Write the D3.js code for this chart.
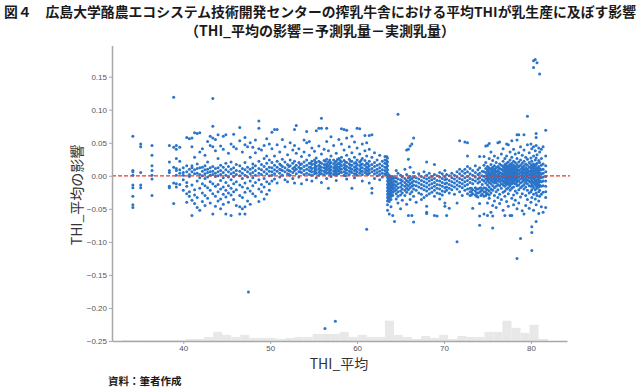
<!DOCTYPE html>
<html><head><meta charset="utf-8">
<script src="https://cdn.jsdelivr.net/npm/d3@7"></script>
<style>body{margin:0;background:#fff}svg{display:block}</style>
</head><body>
<svg id="chart" width="640" height="387"></svg>
<script>
// ---------- text ----------
const titleLine1 = "図４　広島大学酪農エコシステム技術開発センターの搾乳牛舎における平均THIが乳生産に及ぼす影響";
const titleLine2 = "（THI_平均の影響＝予測乳量－実測乳量）";
const xTitle = "THI_平均";
const yTitle = "THI_平均の影響";
const sourceNote = "資料：筆者作成";

// ---------- ticks ----------
const xTicks = [40, 50, 60, 70, 80];
const yTicks = [0.15, 0.10, 0.05, 0.00, -0.05, -0.10, -0.15, -0.20, -0.25];

// ---------- marginal histogram of THI (bin start, width, counts) ----------
const histStart = 33.04;
const histWidth = 1.04;
const histCounts = [1,1,1,1,1,1,1,2,2,4,9,6,4,6,3,3,3,2,3,4,4,7,7,7,9,4,6,4,4,20,6,4,2,5,3,6,2,5,4,4,9,9,20,13,8,16,2];

// ---------- scatter: THI columns and effect values ----------
const thiA = [34.2, 35.1, 36.4, 38.4, 38.9];
const effA = [
 [0.060,0.008,0.006,0.001,-0.014,-0.018,-0.031,-0.044,-0.048],
 [0.048,0.044,0.005,-0.014,-0.018],
 [0.046,0.031,0.015,0.008,0.001,-0.005,-0.030],
 [0.046,0.021,0.008,0.005,-0.016,-0.018],
 [0.119,0.043,0.013,-0.011,-0.042]
];

const thiB = [39.2,39.6,40.0,40.4,40.7,41.0,41.3,41.6,41.9,42.2,42.5,42.8,43.1,43.4,43.7,44.0,44.3,44.6,44.9,45.2,45.5,45.8,46.1,46.5,46.8,47.1,47.4,47.7,48.0,48.3,48.7,49.0,49.3,49.6,49.9];
const effB = [
 [0.046,0.040,0.026,0.011,0.008,0.001,-0.012,-0.017],
 [0.043,0.022,0.009,0.004,-0.013],
 [0.012,0.005,0.001,-0.006,-0.022],
 [0.058,0.015,0.006,-0.010,-0.016,-0.027,-0.040],
 [0.056,0.010,0.002,-0.001,-0.024,-0.031],
 [0.057,0.044,0.015,0.012,0.006,-0.014,-0.037,-0.060],
 [0.065,0.028,0.009,0.003,-0.021,-0.029,-0.042],
 [0.064,0.018,0.011,0.004,-0.008,-0.033,-0.048],
 [0.065,0.036,0.012,0.002,-0.003,-0.019,-0.052],
 [0.041,0.013,0.007,0.000,-0.012,-0.026,-0.039],
 [0.031,0.015,0.009,0.003,-0.004,-0.015,-0.030,-0.045],
 [0.052,0.021,0.010,0.005,-0.002,-0.018,-0.034],
 [0.060,0.046,0.012,0.006,0.001,-0.009,-0.022,-0.041],
 [0.117,0.075,0.057,0.044,0.014,0.007,0.002,-0.012,-0.027,-0.058],
 [0.055,0.038,0.011,0.004,-0.001,-0.016,-0.031,-0.046],
 [0.062,0.026,0.012,0.006,0.000,-0.013,-0.024,-0.038],
 [0.045,0.016,0.008,0.002,-0.007,-0.020,-0.035,-0.050],
 [0.060,0.040,0.013,0.005,-0.003,-0.017,-0.028,-0.043],
 [0.062,0.019,0.009,0.001,-0.010,-0.022,-0.032,-0.058],
 [0.034,0.014,0.006,-0.002,-0.015,-0.026,-0.040],
 [0.048,0.021,0.010,0.003,-0.006,-0.019,-0.029,-0.060],
 [0.063,0.044,0.012,0.005,-0.001,-0.012,-0.024,-0.036],
 [0.041,0.017,0.008,0.002,-0.009,-0.021,-0.045],
 [0.073,0.053,0.015,0.007,0.000,-0.014,-0.030,-0.047,-0.058],
 [0.036,0.011,0.004,-0.004,-0.017,-0.033,-0.050],
 [0.058,0.047,0.020,0.009,0.001,-0.011,-0.025,-0.047,-0.058],
 [0.044,0.013,0.006,-0.002,-0.019,-0.038],
 [0.050,0.028,0.010,0.003,-0.008,-0.023,-0.043],
 [0.043,0.018,0.012,0.005,-0.003,-0.015,-0.027],
 [0.054,0.035,0.015,0.008,0.001,-0.010,-0.031],
 [0.083,0.072,0.041,0.022,0.011,0.004,-0.006,-0.020,-0.039],
 [0.039,0.017,0.009,0.002,-0.013,-0.024],
 [0.046,0.026,0.014,0.006,-0.004,-0.017,-0.035],
 [0.056,0.030,0.019,0.010,0.003,-0.009,-0.028],
 [0.048,0.024,0.013,0.007,0.000,-0.012,-0.022]
];

const thiC = [50.2,50.5,50.8,51.1,51.4,51.7,52.0,52.3,52.6,52.8,53.0,53.3,53.6,53.9,54.2,54.5,54.8,55.1,55.3,55.6,55.9,56.2,56.5,56.7,57.0,57.3,57.6,57.9,58.2,58.5,58.8,59.1,59.4,59.7,60.0,60.3,60.6,60.9,61.1,61.4,61.7,62.0,62.3,62.6,62.9,63.2];
const effC = [
 [0.066,0.041,0.020,0.012,0.006,0.001,-0.008],
 [0.070,0.030,0.016,0.009,0.003,-0.005],
 [0.070,0.047,0.022,0.013,0.007,-0.011],
 [0.036,0.018,0.010,0.004,-0.002],
 [0.055,0.025,0.014,0.008,0.001],
 [0.044,0.021,0.012,0.006,-0.006],
 [0.032,0.017,0.009,0.003,-0.009],
 [0.050,0.024,0.015,0.007,0.001],
 [0.039,0.019,0.011,0.005,-0.004],
 [0.070,0.046,0.022,0.013,0.008,-0.011],
 [0.076,0.034,0.016,0.010,0.003],
 [0.041,0.020,0.013,0.006,-0.002],
 [0.029,0.018,0.011,0.005,-0.012],
 [0.054,0.036,0.021,0.014,0.008,0.002],
 [0.067,0.050,0.024,0.016,0.010,0.004,-0.006],
 [0.052,0.031,0.019,0.013,0.008,0.002],
 [0.042,0.022,0.017,0.011,0.006,0.001,-0.008],
 [0.037,0.024,0.018,0.012,0.007,0.003],
 [0.068,0.027,0.020,0.014,0.009,0.004,-0.003],
 [0.072,0.045,0.022,0.016,0.011,0.006,0.001],
 [0.087,0.072,0.033,0.019,0.013,0.008,0.003,-0.010],
 [0.040,0.023,0.017,0.012,0.007,0.002],
 [0.072,0.052,0.025,0.018,0.013,0.009,0.004,-0.004],
 [0.038,0.021,0.015,0.010,0.005,-0.019],
 [0.059,0.030,0.020,0.014,0.009,0.004,-0.001],
 [0.046,0.024,0.018,0.012,0.007,0.002],
 [0.034,0.022,0.016,0.011,0.006,0.001,-0.007],
 [0.055,0.026,0.019,0.013,0.008,0.003],
 [0.071,0.048,0.028,0.021,0.015,0.010,0.005],
 [0.070,0.039,0.023,0.017,0.012,0.006,0.001],
 [0.069,0.057,0.031,0.020,0.014,0.009,0.004,-0.005],
 [0.044,0.025,0.018,0.012,0.007,0.002],
 [0.060,0.035,0.022,0.016,0.010,0.005,-0.019],
 [0.051,0.028,0.019,0.013,0.008,0.003,-0.003],
 [0.072,0.042,0.024,0.017,0.011,0.006,0.001],
 [0.071,0.033,0.021,0.015,0.009,0.004],
 [0.048,0.026,0.018,0.012,0.007,0.002,-0.008],
 [0.061,0.038,0.023,0.016,0.010,0.005],
 [0.050,0.030,0.019,0.013,0.008,0.003,-0.081],
 [0.061,0.040,0.022,0.015,0.009,0.004,-0.011],
 [0.062,0.028,0.017,0.011,0.006,-0.019,-0.026],
 [0.035,0.020,0.014,0.008,0.003,-0.004],
 [0.024,0.016,0.010,0.005,0.000],
 [0.031,0.018,0.012,0.007,0.002,-0.006],
 [0.022,0.015,0.009,0.004,-0.002],
 [0.029,0.024,0.019,0.013,0.008,0.003]
];

const thiC2 = [51.25,52.15,53.45,54.65,55.2,55.75,56.35,56.85,57.45,57.75,58.05,58.65,59.25,59.85,60.45,61.25];
const effC2 = [
 [0.016,0.009],
 [0.014,0.008,0.002],
 [0.017,0.011,0.006],
 [0.019,0.013,0.007],
 [0.021,0.015,0.010,0.005],
 [0.020,0.014,0.009,0.004],
 [0.022,0.016,0.011,0.006],
 [0.024,0.018,0.012,0.007,0.002],
 [0.020,0.014,0.009,0.004],
 [0.025,0.018,0.013,0.008,0.003],
 [0.023,0.017,0.011,0.006],
 [0.021,0.015,0.010,0.005,0.000],
 [0.022,0.016,0.011,0.006],
 [0.020,0.014,0.009,0.003],
 [0.023,0.017,0.012,0.007],
 [0.018,0.012,0.007,0.002]
];

const thiD = [63.4,63.5,63.6,63.7,63.8,63.9,64.0,64.1,64.3];
const effD = [
 [0.029,0.023,0.018,0.012,0.006,0.001],
 [0.027,0.021,0.015,0.009,0.004,-0.003,-0.008,-0.013,-0.018,-0.023,-0.028,-0.033,-0.038,-0.044,-0.052],
 [-0.001,-0.006,-0.011,-0.016,-0.021,-0.026,-0.031,-0.036],
 [0.001,-0.004,-0.009,-0.014,-0.019,-0.024,-0.029,-0.034,-0.039,-0.058],
 [-0.002,-0.007,-0.012,-0.017,-0.022,-0.027,-0.032],
 [-0.002,-0.006,-0.011,-0.016,-0.021,-0.026,-0.031,-0.036,-0.047],
 [-0.004,-0.009,-0.014,-0.019,-0.024,-0.029],
 [-0.001,-0.005,-0.010,-0.015,-0.020,-0.025,-0.030,-0.060],
 [-0.003,-0.008,-0.013,-0.018,-0.023,-0.069]
];

const thiE = [64.5,64.7,65.0,65.2,65.5,65.7,65.9,66.1,66.3,66.5,66.8,67.1,67.4,67.7,68.0,68.3,68.6,68.9,69.2,69.5,69.8,70.1,70.3,70.6,70.9,71.2,71.5,71.8,72.1,72.4,72.7,73.0,73.3,73.6,73.9,74.1,74.4,74.6];
const effE = [
 [0.008,-0.003,-0.009,-0.015,-0.021,-0.027,-0.035],
 [0.093,0.004,-0.005,-0.012,-0.018,-0.024,-0.031,-0.041],
 [0.001,-0.006,-0.011,-0.017,-0.023,-0.029,-0.050],
 [-0.002,-0.008,-0.014,-0.020,-0.026,-0.037],
 [0.010,-0.004,-0.010,-0.016,-0.022,-0.030],
 [0.039,0.002,-0.007,-0.013,-0.019,-0.025,-0.043],
 [0.040,0.025,-0.003,-0.009,-0.015,-0.021,-0.060],
 [0.045,0.013,-0.001,-0.006,-0.012,-0.018,-0.027,-0.036],
 [0.048,-0.004,-0.010,-0.016,-0.024,-0.060],
 [0.057,0.005,-0.002,-0.008,-0.014,-0.020,-0.031,-0.070],
 [-0.003,-0.009,-0.015,-0.022,-0.040],
 [0.003,-0.005,-0.011,-0.017,-0.026],
 [-0.001,-0.007,-0.013,-0.019,-0.028,-0.036],
 [0.006,-0.003,-0.009,-0.015,-0.021,-0.033],
 [0.021,0.001,-0.005,-0.011,-0.017,-0.023,-0.030,-0.046,-0.055,-0.057],
 [0.004,-0.003,-0.008,-0.014,-0.020,-0.027],
 [-0.001,-0.006,-0.012,-0.018,-0.025],
 [0.017,0.002,-0.004,-0.010,-0.016,-0.022,-0.031,-0.060],
 [0.000,-0.007,-0.013,-0.019,-0.026,-0.061],
 [0.005,-0.002,-0.008,-0.014,-0.020,-0.027,-0.035],
 [0.003,-0.004,-0.010,-0.016,-0.023,-0.029],
 [0.008,-0.001,-0.006,-0.012,-0.018,-0.024,-0.041,-0.046],
 [0.002,-0.005,-0.011,-0.017,-0.022,-0.060],
 [0.000,-0.007,-0.013,-0.019,-0.026,-0.049],
 [0.004,-0.003,-0.009,-0.015,-0.021],
 [0.001,-0.005,-0.011,-0.017,-0.028],
 [0.006,-0.002,-0.008,-0.014,-0.020,-0.041,-0.100],
 [0.053,0.010,0.003,-0.004,-0.010,-0.016,-0.024],
 [0.007,0.000,-0.006,-0.012,-0.018,-0.030],
 [0.051,0.010,0.004,-0.003,-0.009,-0.015,-0.022],
 [0.050,0.030,0.014,0.006,-0.001,-0.007,-0.013,-0.020,-0.027],
 [0.011,0.003,-0.004,-0.010,-0.019,-0.024,-0.030],
 [0.008,0.001,-0.006,-0.012,-0.021,-0.027,-0.049],
 [0.015,0.005,-0.002,-0.008,-0.018,-0.023,-0.029],
 [0.009,0.002,-0.005,-0.011,-0.020,-0.026,-0.032],
 [0.029,0.012,0.004,-0.003,-0.009,-0.019,-0.025,-0.042,-0.061,-0.075],
 [0.007,0.000,-0.006,-0.013,-0.021,-0.028],
 [0.029,0.016,0.006,-0.001,-0.008,-0.018,-0.024,-0.031,-0.058]
];

const thiE2 = [73.15,73.75,74.25,74.9];
const effE2 = [
 [-0.019,-0.024,-0.029],
 [-0.020,-0.026,-0.031],
 [-0.018,-0.023,-0.030],
 [-0.021,-0.027]
];

const thiF = [74.8,75.0,75.2,75.4,75.6,75.8,76.0,76.2,76.4,76.6,76.8,77.0,77.2,77.4,77.6,77.8,78.0,78.2,78.4,78.6,78.8,79.0,79.2,79.4,79.6,79.8,80.0,80.1,80.3,80.5,80.6,80.7,80.9,81.0,81.2,81.4,81.7];
const effF = [
 [0.045,0.020,0.011,0.005,0.000,-0.005,-0.011,-0.019,-0.025,-0.030],
 [0.046,0.014,0.008,0.002,-0.003,-0.008,-0.014,-0.021,-0.027,-0.041,-0.060],
 [0.049,0.026,0.012,0.006,0.001,-0.004,-0.010,-0.017,-0.023,-0.029,-0.034],
 [0.036,0.017,0.009,0.003,-0.002,-0.007,-0.012,-0.020,-0.026,-0.055],
 [0.023,0.013,0.007,0.001,-0.004,-0.009,-0.015,-0.022,-0.045,-0.061,-0.079],
 [0.030,0.015,0.010,0.004,-0.001,-0.006,-0.011,-0.018,-0.030,-0.038],
 [0.020,0.012,0.006,0.000,-0.005,-0.010,-0.016,-0.024,-0.048],
 [0.050,0.027,0.014,0.008,0.003,-0.002,-0.007,-0.013,-0.021,-0.033],
 [0.051,0.018,0.011,0.005,0.000,-0.004,-0.009,-0.015,-0.028,-0.042],
 [0.033,0.016,0.010,0.004,-0.001,-0.006,-0.012,-0.019,-0.036],
 [0.041,0.022,0.014,0.008,0.002,-0.003,-0.008,-0.014,-0.025,-0.052],
 [0.026,0.017,0.011,0.006,0.001,-0.004,-0.009,-0.016,-0.023,-0.031,-0.060],
 [0.048,0.030,0.019,0.013,0.007,0.002,-0.003,-0.008,-0.013,-0.020,-0.039],
 [0.047,0.021,0.015,0.009,0.004,-0.001,-0.006,-0.011,-0.018,-0.027,-0.046],
 [0.036,0.024,0.017,0.011,0.006,0.001,-0.004,-0.010,-0.015,-0.022,-0.060],
 [0.053,0.028,0.019,0.013,0.008,0.003,-0.002,-0.007,-0.012,-0.019,-0.034,-0.060],
 [0.040,0.022,0.016,0.010,0.005,0.000,-0.005,-0.011,-0.017,-0.029,-0.044],
 [0.033,0.020,0.014,0.009,0.004,-0.001,-0.006,-0.012,-0.023,-0.037],
 [0.062,0.054,0.026,0.017,0.011,0.006,0.001,-0.004,-0.009,-0.015,-0.026,-0.050,-0.125],
 [0.062,0.035,0.021,0.014,0.008,0.003,-0.002,-0.008,-0.014,-0.021,-0.041],
 [0.044,0.024,0.016,0.010,0.005,0.000,-0.005,-0.011,-0.018,-0.032,-0.095],
 [0.031,0.019,0.013,0.007,0.002,-0.003,-0.009,-0.016,-0.027,-0.053],
 [0.062,0.039,0.022,0.015,0.009,0.004,-0.001,-0.007,-0.013,-0.020,-0.058],
 [0.028,0.018,0.012,0.006,0.001,-0.004,-0.010,-0.017,-0.030,-0.045],
 [0.090,0.047,0.025,0.016,0.010,0.005,0.000,-0.006,-0.012,-0.022,-0.036],
 [0.035,0.020,0.013,0.007,0.002,-0.003,-0.008,-0.015,-0.026,-0.049],
 [0.048,0.027,0.017,0.011,0.006,0.001,-0.004,-0.010,-0.016,-0.024,-0.040],
 [0.041,0.022,0.014,0.008,0.003,-0.002,-0.008,-0.014,-0.021,-0.033,-0.077,-0.086,-0.113],
 [0.174,0.164,0.044,0.030,0.018,0.012,0.006,0.001,-0.005,-0.011,-0.018,-0.028,-0.052],
 [0.176,0.038,0.024,0.015,0.009,0.004,-0.001,-0.007,-0.013,-0.021,-0.035],
 [0.064,0.058,0.046,0.027,0.017,0.010,0.004,-0.002,-0.009,-0.016,-0.026,-0.044,-0.069],
 [0.171,0.032,0.019,0.012,0.006,0.000,-0.006,-0.012,-0.019,-0.030],
 [0.042,0.023,0.014,0.008,0.002,-0.004,-0.010,-0.017,-0.024,-0.038,-0.057],
 [0.154,0.036,0.020,0.011,0.005,-0.001,-0.007,-0.014,-0.022,-0.031],
 [0.040,0.026,0.016,0.009,0.003,-0.003,-0.009,-0.016,-0.028,-0.047],
 [0.044,0.018,0.010,0.004,-0.002,-0.008,-0.015,-0.025,-0.055],
 [0.069,0.030,0.015,0.006,-0.001,-0.008,-0.016,-0.024,-0.033,-0.048]
];

const thiF2 = [75.1,75.5,75.9,76.3,76.7,76.9,77.1,77.3,77.5,77.7,77.9,78.1,78.3,78.5,79.1,79.5,79.9,80.2,80.4,80.8];
const effF2 = [
 [0.010,0.004,-0.001,-0.006],
 [0.011,0.005,0.000,-0.005],
 [0.008,0.002,-0.003,-0.008],
 [0.012,0.006,0.001,-0.005],
 [0.009,0.003,-0.002,-0.007],
 [0.013,0.007,0.002,-0.003,-0.010],
 [0.015,0.009,0.004,-0.001,-0.006,-0.012],
 [0.012,0.006,0.001,-0.004,-0.010],
 [0.014,0.008,0.003,-0.002,-0.007,-0.013],
 [0.016,0.010,0.005,0.000,-0.005],
 [0.011,0.005,0.000,-0.005,-0.010],
 [0.013,0.007,0.002,-0.003,-0.008],
 [0.010,0.004,-0.001,-0.006,-0.012],
 [0.014,0.008,0.003,-0.002,-0.007],
 [0.011,0.005,0.000,-0.005],
 [0.009,0.003,-0.002,-0.007],
 [0.013,0.007,0.002,-0.003,-0.009],
 [0.015,0.009,0.003,-0.003,-0.009,-0.015],
 [0.012,0.007,0.002,-0.004,-0.010],
 [0.010,0.004,-0.002,-0.008,-0.014]
];

const outlierThi = [47.5, 56.3, 57.5];
const outlierEffect = [-0.176, -0.231, -0.220];

// ---------- build points ----------
const points = [];
[[thiA,effA],[thiB,effB],[thiC,effC],[thiC2,effC2],[thiD,effD],[thiE,effE],[thiE2,effE2],[thiF,effF],[thiF2,effF2]]
  .forEach(([ts, es]) => ts.forEach((t, i) => es[i].forEach(v => points.push({thi: t, eff: v}))));
outlierThi.forEach((t, i) => points.push({thi: t, eff: outlierEffect[i]}));

const histBins = histCounts.map((c, i) => ({x0: histStart + i * histWidth, x1: histStart + (i + 1) * histWidth, count: c}));

// ---------- layout ----------
const svg = d3.select("#chart");
const plot = {left: 112, right: 567, top: 45.6, bottom: 341};
const x = d3.scaleLinear().domain([31.8, 84.15]).range([plot.left, plot.right]);
const y = d3.scaleLinear().domain([-0.25, 0.197]).range([plot.bottom, plot.top]);
const hy = d3.scaleLinear().domain([0, 20]).range([plot.bottom, plot.bottom - 20.3]);

const cjk = "'Noto Sans CJK JP','Noto Sans',sans-serif";
const sans = "'Liberation Sans',Arial,sans-serif";

// title
svg.append("text").attr("x", 4).attr("y", 17).attr("textLength", 632).attr("lengthAdjust", "spacingAndGlyphs")
  .style("font-family", cjk).style("font-size", "13.5px").style("font-weight", 700).attr("fill", "#1a1a1a").text(titleLine1);
svg.append("text").attr("x", 320).attr("y", 36).attr("text-anchor", "middle")
  .style("font-family", cjk).style("font-size", "14px").style("font-weight", 700).attr("fill", "#1a1a1a").text(titleLine2);

// histogram
svg.append("g").selectAll("rect").data(histBins).join("rect")
  .attr("x", d => x(d.x0)).attr("width", d => x(d.x1) - x(d.x0))
  .attr("y", d => hy(d.count)).attr("height", d => hy(0) - hy(d.count))
  .attr("fill", "#e8e8e8");

// points
svg.append("g").selectAll("circle").data(points).join("circle")
  .attr("cx", d => x(d.thi)).attr("cy", d => y(d.eff)).attr("r", 1.5)
  .attr("fill", "#2a74c9");

// zero reference line
svg.append("line").attr("x1", plot.left).attr("x2", plot.right + 3).attr("y1", y(0)).attr("y2", y(0))
  .attr("stroke", "#e2382a").attr("stroke-width", 1.2).attr("stroke-dasharray", "4,2");

// axes
const fmt = d3.format(".2f");
const gy = svg.append("g").attr("transform", `translate(${plot.left},0)`)
  .call(d3.axisLeft(y).tickValues(yTicks).tickFormat(fmt).tickSize(3).tickSizeOuter(0).tickPadding(2));
const gx = svg.append("g").attr("transform", `translate(0,${plot.bottom})`)
  .call(d3.axisBottom(x).tickValues(xTicks).tickSize(3).tickSizeOuter(0).tickPadding(1.5));
[gy, gx].forEach(g => {
  g.select(".domain").attr("stroke", "#a8a8a8").attr("stroke-width", 1.5);
  g.selectAll(".tick line").attr("stroke", "#a8a8a8").attr("stroke-width", 1);
  g.selectAll(".tick text").attr("fill", "#555").style("font-family", sans).style("font-size", "8px");
});

// axis titles
svg.append("text").attr("x", 339).attr("y", 368.5).attr("text-anchor", "middle")
  .style("font-family", cjk).style("font-size", "14px").attr("fill", "#333").text(xTitle);
svg.append("text").attr("transform", "translate(82,195) rotate(-90)").attr("text-anchor", "middle")
  .style("font-family", cjk).style("font-size", "14px").attr("fill", "#333").text(yTitle);

// source
svg.append("text").attr("x", 108).attr("y", 385)
  .style("font-family", cjk).style("font-size", "10.5px").style("font-weight", 700).attr("fill", "#1a1a1a").text(sourceNote);
</script>
</body></html>
